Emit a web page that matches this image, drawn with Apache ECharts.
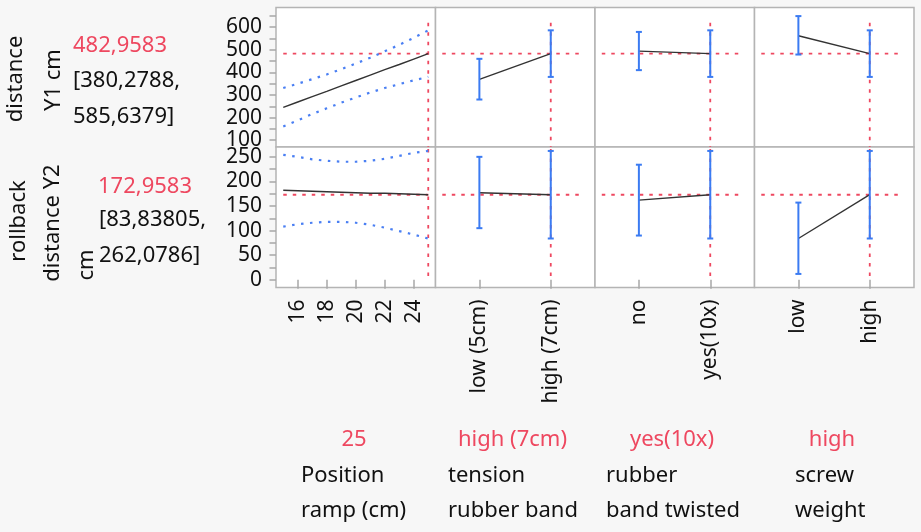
<!DOCTYPE html>
<html>
<head>
<meta charset="utf-8">
<script src="https://cdn.jsdelivr.net/npm/echarts@6/dist/echarts.min.js"></script>
<style>
  html, body { margin: 0; background: #f7f7f7; }
  #main { width: 921px; height: 532px; }
</style>
</head>
<body>
<div id="main"></div>
<script>
// ramp position profile (col 1)
var rampX = [15, 16, 17, 18, 19, 20, 21, 22, 23, 24, 25];
var y1Fit = [245, 269, 293, 316, 340, 364, 388, 412, 435, 459, 483];
var y1Upper = [331, 350, 370, 391, 414, 439, 465, 493, 522, 553, 586];
var y1Lower = [161, 188, 216, 241, 266, 289, 311, 331, 348, 365, 380];
var y2Fit = [182, 181, 180, 179, 178, 177, 176, 176, 175, 174, 173];
var y2Upper = [254, 250, 245, 242, 240, 240, 242, 246, 252, 258, 262];
var y2Lower = [108, 113, 116, 118, 118, 116, 112, 106, 99, 92, 84];

// categorical factors (cols 2-4), values for [first level, second level]
var levels = [['low (5cm)', 'high (7cm)'], ['no', 'yes(10x)'], ['low', 'high']];
var y1Cat = [[369, 483], [494, 483], [562, 483]];
var y1CatLo = [[280, 380], [410, 380], [479, 380]];
var y1CatHi = [[460, 586], [579, 586], [649, 586]];
var y2Cat = [[177, 173], [162, 173], [84, 173]];
var y2CatLo = [[105, 84], [90, 84], [12, 84]];
var y2CatHi = [[250, 262], [234, 262], [157, 262]];

var current = [482.9583, 172.9583];
var currentX = [25, 2, 2, 2];

var y1Labels = [100, 200, 300, 400, 500, 600];
var y1Ticks = [100, 150, 200, 250, 300, 350, 400, 450, 500, 550, 600, 650];
var y2Labels = [0, 50, 100, 150, 200, 250];
var y2Ticks = [0, 25, 50, 75, 100, 125, 150, 175, 200, 225, 250];
var rampTicks = [16, 18, 20, 22, 24];

var FONT = '"Noto Sans", sans-serif';
var RED = '#ee4860';
var BLUE = '#4a7ff3';
var colLeft = [276, 435.5, 595, 754.5];
var colW = 159.5;
var rowTop = [7.5, 147];
var rowH = [139.5, 140.5];
var yRange = [[70, 687], [-15.6, 270]];

var myChart = echarts.init(document.getElementById('main'));

var grids = [], xAxes = [], yAxes = [], series = [];

function refStyle() {
    return { color: RED, width: 1.8, type: [3.5, 6] };
}

function lineSeries(idx, data, style, z) {
    return {
        type: 'line', xAxisIndex: idx, yAxisIndex: idx, data: data,
        showSymbol: false, silent: true, animation: false, z: z,
        lineStyle: style
    };
}

function errRender(params, api) {
    var x = api.value(0);
    var lo = api.coord([x, api.value(1)]);
    var hi = api.coord([x, api.value(2)]);
    var st = { stroke: '#3b7bf2', lineWidth: 2 };
    return {
        type: 'group', children: [
            { type: 'line', shape: { x1: lo[0], y1: lo[1], x2: hi[0], y2: hi[1] }, style: st },
            { type: 'line', shape: { x1: lo[0] - 3, y1: lo[1], x2: lo[0] + 3, y2: lo[1] }, style: st },
            { type: 'line', shape: { x1: hi[0] - 3, y1: hi[1], x2: hi[0] + 3, y2: hi[1] }, style: st }
        ]
    };
}

for (var r = 0; r < 2; r++) {
    for (var c = 0; c < 4; c++) {
        var idx = r * 4 + c;
        grids.push({
            left: colLeft[c], top: rowTop[r], width: colW, height: rowH[r],
            show: true, backgroundColor: '#fff', borderColor: '#b4b4b4', borderWidth: 1.5
        });
        var showX = r === 1;
        var lv = c > 0 ? levels[c - 1] : null;
        xAxes.push({
            gridIndex: idx, type: 'value',
            min: c === 0 ? 14.5 : 0.385, max: c === 0 ? 25.5 : 2.62,
            splitLine: { show: false },
            axisLine: { show: false },
            axisTick: {
                show: showX, length: 9, lineStyle: { color: '#a8a8a8', width: 1.5 },
                customValues: c === 0 ? rampTicks : [1, 2]
            },
            axisLabel: {
                show: showX, rotate: 90, margin: 12, color: '#111',
                fontFamily: FONT, fontSize: 21,
                customValues: c === 0 ? rampTicks : [1, 2],
                formatter: (function (lv) {
                    return function (v) { return lv ? lv[Math.round(v) - 1] : String(v); };
                })(lv)
            }
        });
        var showY = c === 0;
        yAxes.push({
            gridIndex: idx, type: 'value',
            min: yRange[r][0], max: yRange[r][1],
            splitLine: { show: false },
            axisLine: { show: false },
            axisTick: {
                show: showY, length: 6.5, lineStyle: { color: '#a8a8a8', width: 1.5 },
                customValues: r === 0 ? y1Ticks : y2Ticks
            },
            axisLabel: {
                show: showY, margin: 14, color: '#111',
                fontFamily: FONT, fontSize: 21,
                customValues: r === 0 ? y1Labels : y2Labels
            }
        });

        var cur = current[r];
        // reference lines
        if (c === 0) {
            series.push(lineSeries(idx, [[15, cur], [25, cur]], refStyle(), 1));
        } else {
            series.push(lineSeries(idx, [[0.48, cur], [2.45, cur]], refStyle(), 1));
        }
        var vTop = r === 0 ? 619 : 266;
        var vBot = r === 0 ? yRange[0][0] : 0;
        series.push(lineSeries(idx, [[currentX[c], vTop], [currentX[c], vBot]], refStyle(), 1));

        if (c === 0) {
            var fit = r === 0 ? y1Fit : y2Fit;
            var up = r === 0 ? y1Upper : y2Upper;
            var low = r === 0 ? y1Lower : y2Lower;
            var dot = { color: BLUE, width: 2.2, type: [2.5, 6.5] };
            series.push(lineSeries(idx, rampX.map(function (x, i) { return [x, up[i]]; }), dot, 2));
            series.push(lineSeries(idx, rampX.map(function (x, i) { return [x, low[i]]; }), dot, 2));
            series.push(lineSeries(idx, rampX.map(function (x, i) { return [x, fit[i]]; }),
                { color: '#333', width: 1.4 }, 3));
        } else {
            var m = r === 0 ? y1Cat[c - 1] : y2Cat[c - 1];
            var lo = r === 0 ? y1CatLo[c - 1] : y2CatLo[c - 1];
            var hi = r === 0 ? y1CatHi[c - 1] : y2CatHi[c - 1];
            series.push(lineSeries(idx, [[1, m[0]], [2, m[1]]], { color: '#333', width: 1.4 }, 3));
            series.push({
                type: 'custom', xAxisIndex: idx, yAxisIndex: idx, silent: true, animation: false, z: 4,
                renderItem: errRender,
                encode: { x: 0, y: [1, 2] },
                data: [[1, lo[0], hi[0]], [2, lo[1], hi[1]]]
            });
        }
    }
}

// response names and current values (left) and factor names (bottom)
function txt(x, y, text, color, opts) {
    opts = opts || {};
    return {
        type: 'text', x: x, y: y, rotation: opts.rot || 0, silent: true,
        style: {
            text: text, fill: color, font: '22px ' + FONT,
            align: opts.align || 'left', verticalAlign: 'middle'
        }
    };
}
var graphics = [
    txt(16, 79, 'distance', '#111', { rot: Math.PI / 2, align: 'center' }),
    txt(54, 80, 'Y1 cm', '#111', { rot: Math.PI / 2, align: 'center' }),
    txt(73, 46, '482,9583', RED),
    txt(73, 81, '[380,2788,', '#111'),
    txt(73, 117, '585,6379]', '#111'),
    txt(19, 221, 'rollback', '#111', { rot: Math.PI / 2, align: 'center' }),
    txt(53, 223, 'distance Y2', '#111', { rot: Math.PI / 2, align: 'center' }),
    txt(87, 265, 'cm', '#111', { rot: Math.PI / 2, align: 'center' }),
    txt(98, 187, '172,9583', RED),
    txt(99, 220, '[83,83805,', '#111'),
    txt(99, 256, '262,0786]', '#111'),
    txt(354, 440, '25', RED, { align: 'center' }),
    txt(512.5, 440, 'high (7cm)', RED, { align: 'center' }),
    txt(672, 440, 'yes(10x)', RED, { align: 'center' }),
    txt(832, 440, 'high', RED, { align: 'center' }),
    txt(301, 476, 'Position', '#111'),
    txt(301, 511, 'ramp (cm)', '#111'),
    txt(448, 476, 'tension', '#111'),
    txt(448, 511, 'rubber band', '#111'),
    txt(606, 476, 'rubber', '#111'),
    txt(606, 511, 'band twisted', '#111'),
    txt(795, 476, 'screw', '#111'),
    txt(795, 511, 'weight', '#111')
];

var option = {
    backgroundColor: '#f7f7f7',
    animation: false,
    grid: grids,
    xAxis: xAxes,
    yAxis: yAxes,
    series: series,
    graphic: graphics
};
myChart.setOption(option);
</script>
</body>
</html>
